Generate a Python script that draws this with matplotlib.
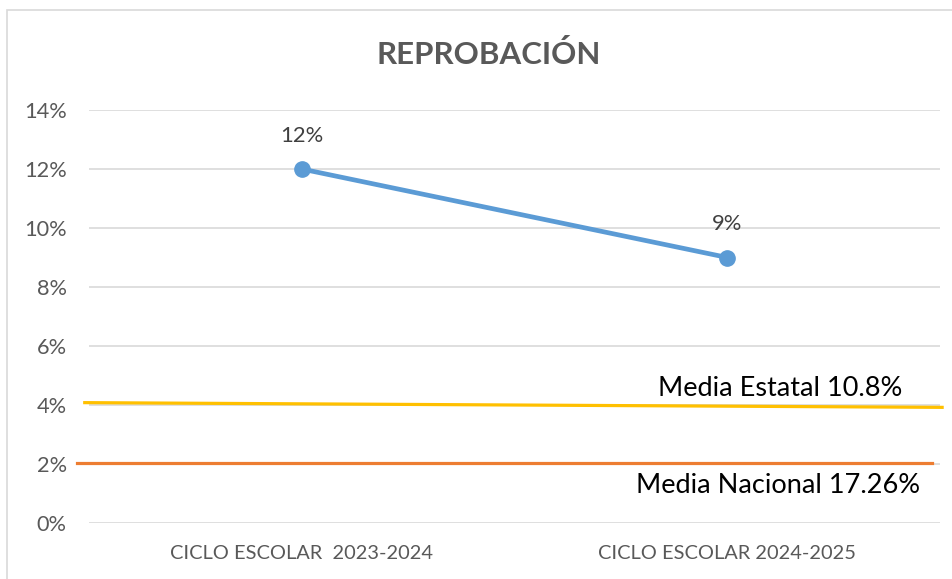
import matplotlib.pyplot as plt
from matplotlib.patches import Rectangle
from matplotlib.ticker import FuncFormatter

# --------------------------
# DATA
# --------------------------
ciclos = ["CICLO ESCOLAR  2023-2024", "CICLO ESCOLAR 2024-2025"]
reprobacion = [12, 9]
etiquetas = ["12%", "9%"]

# reference lines drawn as shapes in the original (value at each end)
estatal_x = [-0.51, 1.505]
estatal_y = [4.08, 3.92]
nacional_x = [-0.528, 1.481]
nacional_y = [2.03, 2.03]
estatal_txt = "Media Estatal 10.8%"
nacional_txt = "Media Nacional 17.26%"

FONT = "Lato"
GRIS = "#595959"

fig = plt.figure(figsize=(9.53, 5.79), dpi=100)
ax = fig.add_axes([89 / 953, 1 - 523 / 579, 851 / 953, 413 / 579])

# chart frame
fig.patches.append(Rectangle((7 / 953, -0.1), 1.2, 1.1 - 10 / 579, transform=fig.transFigure,
                             fill=False, edgecolor="#D9D9D9", linewidth=1.2))

x = list(range(len(ciclos)))
ax.plot(x, reprobacion, color="#5B9BD5", linewidth=3.4, marker="o", markersize=11,
        solid_capstyle="round", zorder=5)
for xi, yi, lab in zip(x, reprobacion, etiquetas):
    ax.annotate(lab, (xi, yi), xytext=(0, 24), textcoords="offset points",
                ha="center", va="center", fontsize=15.8, color="#404040", family=FONT)

ax.plot(estatal_x, estatal_y, color="#FFC000", linewidth=2.3, clip_on=False, zorder=4)
ax.plot(nacional_x, nacional_y, color="#ED7D31", linewidth=2.3, clip_on=False, zorder=4)
ax.text(1.125, 4.55, estatal_txt, ha="center", va="center", fontsize=19.5, color="black", family=FONT)
ax.text(1.12, 1.28, nacional_txt, ha="center", va="center", fontsize=19.5, color="black", family=FONT)

ax.set_xlim(-0.5, 1.5)
ax.set_ylim(0, 14)
ax.set_yticks(range(0, 15, 2))
ax.yaxis.set_major_formatter(FuncFormatter(lambda v, p: f"{v:.0f}%"))
ax.set_xticks(x)
ax.set_xticklabels(ciclos)
ax.grid(axis="y", color="#D9D9D9", linewidth=1.2)
ax.set_axisbelow(True)
for s in ax.spines.values():
    s.set_visible(False)
ax.tick_params(axis="y", length=0, colors=GRIS, labelsize=15.7, pad=16)
ax.tick_params(axis="x", length=0, colors=GRIS, labelsize=14.4, pad=16)
for t in ax.get_xticklabels() + ax.get_yticklabels():
    t.set_family(FONT)

fig.text(489 / 953, 1 - 54 / 579, "REPROBACIÓN", ha="center", va="center",
         fontsize=22.5, fontweight="bold", color=GRIS, family=FONT)

fig.savefig("out.png", dpi=100)
